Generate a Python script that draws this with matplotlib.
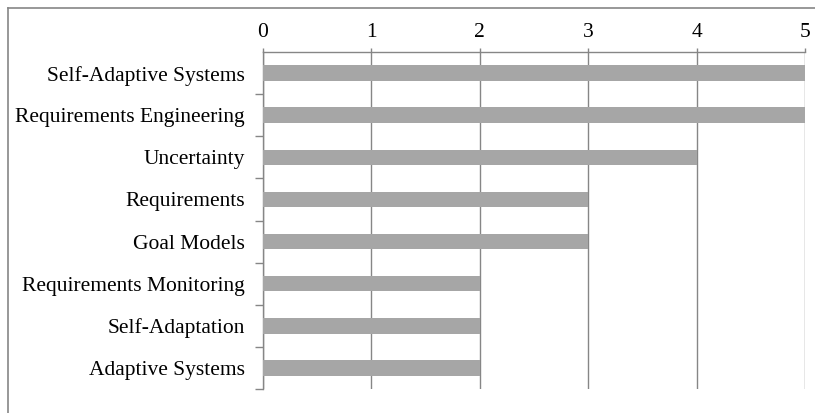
import numpy as np
import matplotlib.pyplot as plt
from matplotlib.lines import Line2D

plt.rcParams['font.family'] = ['Liberation Serif', 'DejaVu Serif']

categories = ['Self-Adaptive Systems', 'Requirements Engineering', 'Uncertainty',
              'Requirements', 'Goal Models', 'Requirements Monitoring',
              'Self-Adaptation', 'Adaptive Systems']
counts = [5, 5, 4, 3, 3, 2, 2, 2]
xticks = [0, 1, 2, 3, 4, 5]

grey = '#868686'

fig = plt.figure(figsize=(8.15, 4.13), dpi=100)
ax = fig.add_axes([263/815, 1 - 389/413, (805 - 263)/815, (389 - 52)/413])

y = np.arange(len(categories))
ax.barh(y, counts, height=0.37, color='#a6a6a6', zorder=3)

ax.set_xlim(0, 5)
ax.set_ylim(len(categories) - 0.5, -0.5)
ax.xaxis.tick_top()
ax.set_xticks(xticks)
ax.set_xticklabels([str(t) for t in xticks], fontsize=15.5)
ax.tick_params(axis='x', direction='out', length=3, width=1, color=grey, pad=4.5)
ax.grid(axis='x', color=grey, linewidth=1, zorder=1)

ax.set_yticks(y)
ax.set_yticklabels(categories, fontsize=15.5)
ax.tick_params(axis='y', which='major', length=0, pad=13)
ax.set_yticks(np.arange(len(categories)) + 0.5, minor=True)
ax.tick_params(axis='y', which='minor', direction='out', length=6, width=1, color=grey)

for s in ['right', 'bottom']:
    ax.spines[s].set_visible(False)
for s in ['top', 'left']:
    ax.spines[s].set_color(grey)
    ax.spines[s].set_linewidth(1)

# outer frame of the chart area
fig.add_artist(Line2D([8/815, 1], [1 - 8/413, 1 - 8/413], color=grey, lw=1.2))
fig.add_artist(Line2D([8/815, 8/815], [0, 1 - 8/413], color=grey, lw=1.2))

fig.savefig('out.png', dpi=100)
